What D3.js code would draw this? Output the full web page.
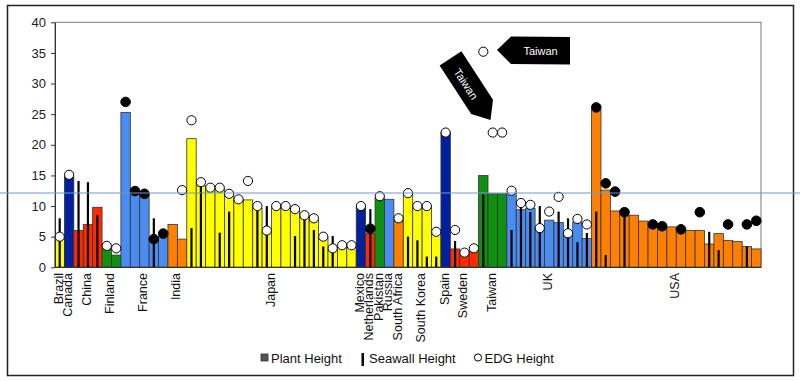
<!DOCTYPE html>
<html><head><meta charset="utf-8">
<script src="https://cdn.jsdelivr.net/npm/d3@7"></script>
<style>body{margin:0;background:#fff} svg{display:block} text{font-family:Arial,"Liberation Sans",sans-serif}</style>
</head><body><svg id="c" width="800" height="381"></svg>
<script>
const countries = ["Brazil","Canada","China","Finland","France","India","Japan","Mexico","Netherlands","Pakistan","Russia","South Africa","South Korea","Spain","Sweden","Taiwan","UK","USA"];
const sitesPerCountry = [1,1,3,2,5,2,18,1,1,1,1,1,4,1,3,3,9,18];
const plantHeight = [
  4.7, 14.8, 6.0, 7.0, 9.8, 3.0, 2.0,
  25.3, 12.2, 11.8, 4.8, 5.0,
  7.0, 4.6,
  21.0, 13.3, 12.9, 12.8, 11.8, 11.0, 11.0, 9.6, 5.7, 9.7, 9.7, 9.3, 8.4, 7.8, 4.9, 2.7, 3.2, 3.2,
  10.0, 5.6, 11.3, 11.1, 7.5,
  11.9, 9.8, 9.8, 5.6,
  22.0,
  3.0, 2.0, 2.6,
  15.0, 12.0, 12.0,
  12.1, 9.4, 9.6, 6.3, 7.7, 7.3, 5.5, 7.4, 4.7,
  25.7, 12.6, 9.2, 8.5, 8.5, 7.55, 6.5, 6.3, 6.6, 6.1, 6.0, 6.0, 3.8, 5.5, 4.4, 4.2, 3.4, 3.0
];
const seawallHeight = [
  8.0, null, 14.1, 13.9, 8.5, null, null,
  null, null, null, 8.0, null,
  null, null,
  6.4, 13.2, null, 5.65, 9.1, null, null, 9.2, 10.0, null, null, 5.1, 7.8, 6.1, 3.4, 5.1, null, null,
  null, 9.5, null, null, null,
  5.0, 4.4, 1.75, 1.75,
  null,
  4.3, null, null,
  11.9, null, null,
  6.1, 9.7, 9.0, 10.0, null, 9.1, 8.0, 4.1, 5.6,
  9.1, 2.0, null, 8.9, null, null, null, null, null, null, null, null, 5.8, 2.8, null, null, 3.4, null
];
const edgOpen = [
  5.0, 15.1, null, null, null, 3.5, 3.1,
  null, null, null, null, null,
  null, 12.6,
  24.0, 13.9, 13.0, 13.0, 12.0, 11.1, 14.1, 10.0, 6.0, 10.0, 10.0, 9.5, 8.5, 8.0, 5.0, 3.1, 3.6, 3.6,
  10.0, null, 11.6, null, 8.0,
  12.1, 10.0, 10.0, 5.8,
  22.0,
  6.1, 2.4, 3.1,
  35.2, 22.0, 22.0,
  12.5, 10.5, 10.2, 6.4, 9.1, 11.5, 5.55, 7.9, 7.0,
  null, null, null, null, null, null, null, null, null, null, null, null, null, null, null, null, null, null
];
const edgFilled = [
  null, null, null, null, null, null, null,
  27.0, 12.45, 12.0, 4.6, 5.5,
  null, null,
  null, null, null, null, null, null, null, null, null, null, null, null, null, null, null, null, null, null,
  null, 6.3, null, null, null,
  null, null, null, null,
  null,
  null, null, null,
  null, null, null,
  null, null, null, null, null, null, null, null, null,
  26.1, 13.7, 12.35, 9.0, null, null, 7.0, 6.7, null, 6.2, null, 9.0, null, null, 7.0, null, 7.0, 7.6
];
const yTicks = [0,5,10,15,20,25,30,35,40];
const palette = ["#ffff00","#0020a0","#ff2a00","#109010","#4a8cf0","#ff8000"];
const legendItems = ["Plant Height","Seawall Height","EDG Height"];
const calloutLabel = "Taiwan";

const svg = d3.select("#c");
const slotCountry = [];
sitesPerCountry.forEach((n,i)=>{ for(let k=0;k<n;k++) slotCountry.push(i); });
const idx = d3.range(plantHeight.length);
const x = d3.scaleBand().domain(idx).range([55,761]).padding(0);
const y = d3.scaleLinear().domain([0,40]).range([267.3,22.3]);
const bw = x.bandwidth();

// outer frame
svg.append("rect").attr("x",7.5).attr("y",5.5).attr("width",786).attr("height",370)
  .attr("fill","#fff").attr("stroke","#222").attr("stroke-width",1.5);
// plot frame
svg.append("rect").attr("x",55).attr("y",y(40)).attr("width",706).attr("height",y(0)-y(40))
  .attr("fill","none").attr("stroke","#777").attr("stroke-width",1);

// bars
svg.append("g").selectAll("rect").data(idx).join("rect")
  .attr("x",i=>x(i)).attr("width",bw)
  .attr("y",i=>y(plantHeight[i])).attr("height",i=>y(0)-y(plantHeight[i]))
  .attr("fill",i=>palette[slotCountry[i]%6])
  .attr("stroke","#333").attr("stroke-width",0.8);

// seawalls
svg.append("g").selectAll("line").data(idx.filter(i=>seawallHeight[i]!=null)).join("line")
  .attr("x1",i=>x(i)+bw/2).attr("x2",i=>x(i)+bw/2)
  .attr("y1",y(0)).attr("y2",i=>y(seawallHeight[i]))
  .attr("stroke","#000").attr("stroke-width",2.2);

// EDG circles
svg.append("g").selectAll("circle").data(idx.filter(i=>edgOpen[i]!=null)).join("circle")
  .attr("cx",i=>x(i)+bw/2).attr("cy",i=>y(edgOpen[i])).attr("r",4.6)
  .attr("fill","#fff").attr("stroke","#000").attr("stroke-width",1);
svg.append("g").selectAll("circle").data(idx.filter(i=>edgFilled[i]!=null)).join("circle")
  .attr("cx",i=>x(i)+bw/2).attr("cy",i=>y(edgFilled[i])).attr("r",4.8)
  .attr("fill","#000").attr("stroke","#000").attr("stroke-width",1);

// y axis
const ya = svg.append("g").attr("transform","translate(55,0)")
  .call(d3.axisLeft(y).tickValues(yTicks).tickSize(4).tickSizeOuter(0).tickPadding(5));
ya.selectAll("text").attr("font-size",13).attr("fill","#222").style("font-family","Arial,'Liberation Sans',sans-serif");
ya.selectAll("line,path").attr("stroke","#333");
// x axis line
svg.append("line").attr("x1",55).attr("x2",761).attr("y1",y(0)).attr("y2",y(0)).attr("stroke","#333").attr("stroke-width",1.2);

// country labels
let start = 0;
countries.forEach((c,i)=>{
  const cx = x(start) + sitesPerCountry[i]*bw/2 - 1;
  svg.append("text").attr("transform",`translate(${cx},273) rotate(-90)`)
    .attr("text-anchor","end").attr("dominant-baseline","central")
    .attr("font-size",12.5).attr("fill","#111").text(c);
  start += sitesPerCountry[i];
});

// callout arrows
svg.append("path").attr("d","M497,50 L511,36.5 L570,37 L570,64.5 L511,64 Z").attr("fill","#000");
svg.append("text").attr("x",540.5).attr("y",51).attr("text-anchor","middle").attr("dominant-baseline","central")
  .attr("font-size",11).attr("fill","#fff").text(calloutLabel);
const dg = svg.append("g").attr("transform","translate(450.5,58.3) rotate(57)");
dg.append("path").attr("d","M0,-13 L58,-13 L73.5,0 L58,13 L0,13 Z").attr("fill","#000");
dg.append("text").attr("x",30).attr("y",1).attr("text-anchor","middle").attr("dominant-baseline","central")
  .attr("font-size",11).attr("fill","#fff").text(calloutLabel);

// horizontal reference line
svg.append("line").attr("x1",0).attr("x2",800).attr("y1",193).attr("y2",193).attr("stroke","#7096d8").attr("stroke-width",1);

// legend
const lg = svg.append("g");
lg.append("rect").attr("x",261).attr("y",354).attr("width",7).attr("height",7).attr("fill","#555").attr("stroke","#333").attr("stroke-width",0.8);
lg.append("text").attr("x",271).attr("y",362.5).attr("font-size",13).attr("fill","#111").text(legendItems[0]);
lg.append("rect").attr("x",361.5).attr("y",353).attr("width",2.5).attr("height",13).attr("fill","#000");
lg.append("text").attr("x",369).attr("y",362.5).attr("font-size",13).attr("fill","#111").text(legendItems[1]);
lg.append("circle").attr("cx",478).attr("cy",357.5).attr("r",3.6).attr("fill","#fff").attr("stroke","#000").attr("stroke-width",1);
lg.append("text").attr("x",484.5).attr("y",362.5).attr("font-size",13).attr("fill","#111").text(legendItems[2]);
</script></body></html>
